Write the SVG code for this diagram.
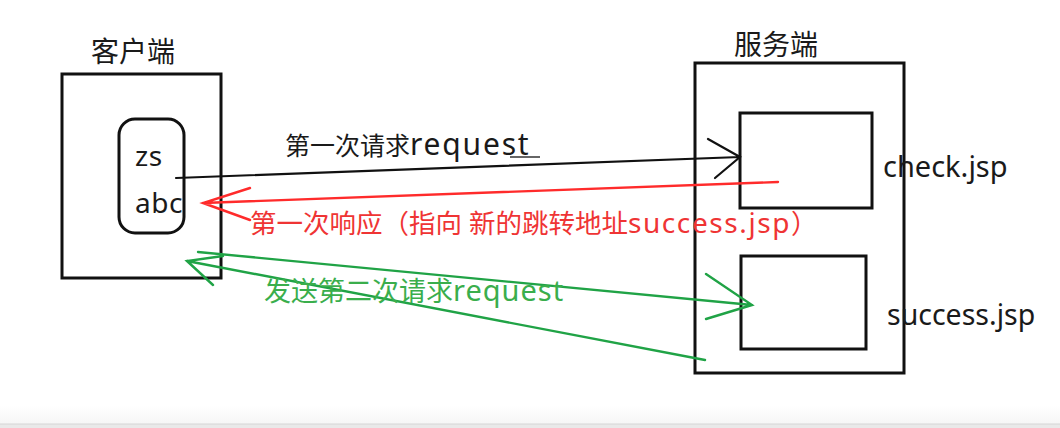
<svg xmlns="http://www.w3.org/2000/svg" width="1060" height="428" viewBox="0 0 1060 428">
  <defs>
    <linearGradient id="fade" x1="0" y1="0" x2="0" y2="1">
      <stop offset="0" stop-color="#ffffff"/>
      <stop offset="1" stop-color="#f6f6f6"/>
    </linearGradient>
  </defs>
  <style>
    .box { fill: none; stroke: #111; stroke-width: 3; }
    .lbl { font-family: "Noto Sans", "Noto Sans CJK SC", sans-serif; fill: #1a1a1a; }
    .blk { fill: none; stroke: #111; stroke-width: 2.2; stroke-linecap: round; }
    .red { fill: none; stroke: #ff2b2b; stroke-width: 2.4; stroke-linecap: round; }
    .grn { fill: none; stroke: #20a346; stroke-width: 2.4; stroke-linecap: round; }
  </style>
  <rect width="1060" height="428" fill="#ffffff"/>
  <rect x="0" y="405" width="1060" height="19" fill="url(#fade)"/>
  <rect x="0" y="424" width="1060" height="4" fill="#e9e9e9"/>
  <line x1="0" y1="424" x2="1060" y2="424" stroke="#d6d6d6" stroke-width="1"/>

  <!-- client side -->
  <g id="client">
    <text class="lbl" x="91" y="62" font-size="28">客户端</text>
    <rect class="box" x="62" y="74" width="159" height="204"/>
  </g>
  <g id="form">
    <rect class="box" x="119" y="119" width="65" height="114" rx="16"/>
    <text class="lbl" x="135" y="166" font-size="28" letter-spacing="0.5">zs</text>
    <text class="lbl" x="135" y="213" font-size="28" letter-spacing="0.5">abc</text>
  </g>

  <!-- server side -->
  <g id="server">
    <text class="lbl" x="734" y="55" font-size="28">服务端</text>
    <rect class="box" x="695" y="63" width="209" height="310"/>
  </g>
  <g id="check">
    <rect class="box" x="740" y="113" width="132" height="95"/>
    <text class="lbl" x="883" y="177" font-size="29">check.jsp</text>
  </g>
  <g id="success">
    <rect class="box" x="741" y="256" width="125" height="93"/>
    <text class="lbl" x="887" y="325" font-size="28.5">success.jsp</text>
  </g>

  <!-- requests and responses -->
  <g id="connectors">
    <!-- first request -->
    <path class="blk" d="M176 178 L740 157 M708 139 L740 157 L715 178"/>
    <!-- first response, redirect -->
    <path class="red" d="M778 182 L203 203 M250 188 L203 203 L250 220"/>
    <!-- second request -->
    <path class="grn" d="M198 252 L752 305 M706 274 L752 305 L706 319"/>
    <!-- back to client -->
    <path class="grn" d="M705 360 L187 261 M223 256 L187 261 L213 285"/>
  </g>

  <g id="labels">
    <text class="lbl" x="285" y="155" font-size="25">第一次请求<tspan font-size="30" letter-spacing="1.8">request</tspan></text>
    <line x1="510" y1="157" x2="540" y2="157" stroke="#333" stroke-width="1.5"/>
    <text class="lbl" x="250" y="233" font-size="26.5" style="fill:#ef3434">第一次响应（指向 新的跳转地址<tspan font-size="28" letter-spacing="1.6">success.jsp</tspan>）</text>
    <text class="lbl" x="264" y="301" font-size="27" style="fill:#3aae4c">发送第二次请求<tspan font-size="29" letter-spacing="1">request</tspan></text>
  </g>
</svg>
